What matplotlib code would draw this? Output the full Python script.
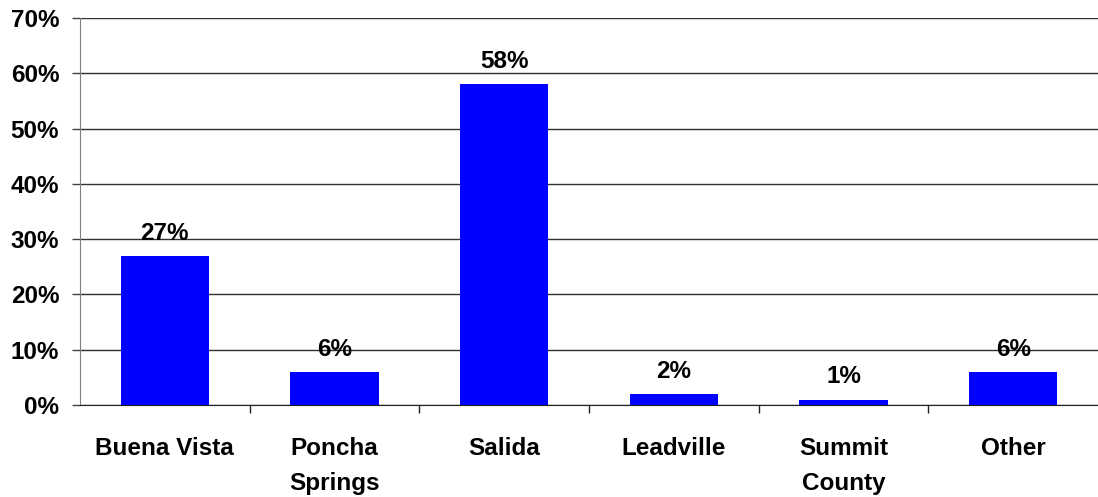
import matplotlib.pyplot as plt
from matplotlib.ticker import MultipleLocator, FuncFormatter

plt.rcParams['font.family'] = ['Liberation Sans', 'DejaVu Sans']

categories = ["Buena Vista", "Poncha\nSprings", "Salida", "Leadville", "Summit\nCounty", "Other"]
shares = [27, 6, 58, 2, 1, 6]

fig = plt.figure(figsize=(10.98, 4.97), dpi=100)
ax = fig.add_axes([0.0729, 0.185, 0.9271, 0.779])

x = range(len(categories))
ax.bar(x, shares, width=0.52, color="#0000FF", zorder=3)

for i, v in zip(x, shares):
    ax.annotate(f"{v}%", (i, v), xytext=(0, 8), textcoords="offset points",
                ha="center", va="bottom", fontsize=17.5, fontweight="bold")

ax.set_xlim(-0.5, len(categories) - 0.5)
ax.set_ylim(0, 70)
ax.yaxis.set_major_locator(MultipleLocator(10))
ax.yaxis.set_major_formatter(FuncFormatter(lambda v, p: f"{v:.0f}%"))
ax.grid(axis="y", color="#303030", linewidth=1, zorder=0)

# category labels centered, ticks between categories
ax.set_xticks(list(x))
ax.set_xticklabels(categories, fontsize=17.5, fontweight="bold", linespacing=1.65)
ax.tick_params(axis="x", length=0, pad=23)
ax.set_xticks([i + 0.5 for i in range(len(categories) - 1)], minor=True)
ax.tick_params(axis="x", which="minor", length=6, color="#202020", width=1)
ax.tick_params(axis="y", length=6, width=1, color="#404040", labelsize=17.5, pad=9)
for lab in ax.get_yticklabels():
    lab.set_fontweight("bold")

for s in ["top", "right"]:
    ax.spines[s].set_visible(False)
ax.spines["left"].set_color("#808080")
ax.spines["bottom"].set_color("#202020")
ax.spines["bottom"].set_zorder(4)

fig.savefig("out.png", dpi=100)
